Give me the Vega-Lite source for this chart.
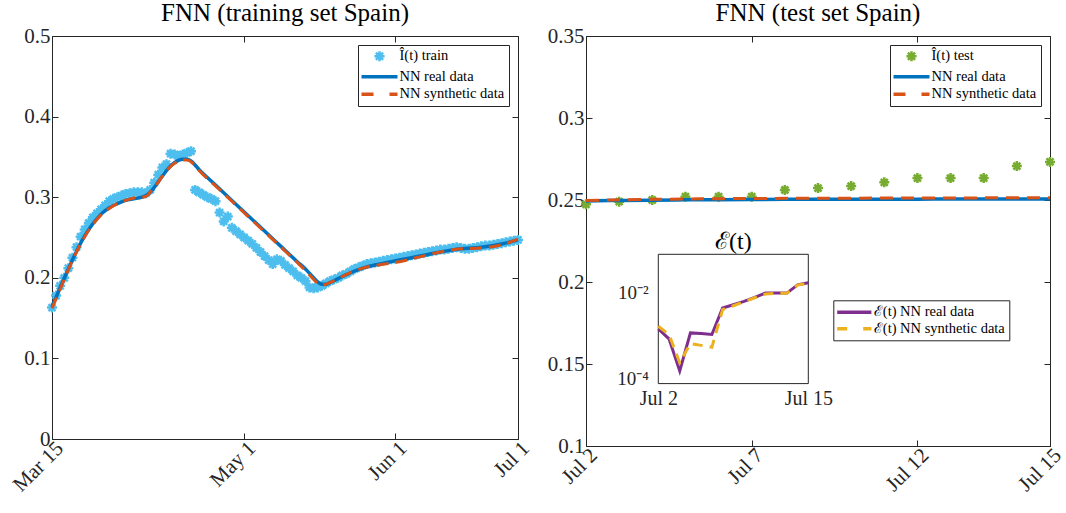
{
  "$schema": "https://vega.github.io/schema/vega-lite/v6.json",
  "padding": {"left": 8, "top": 0, "right": 3, "bottom": 5},
  "background": "white",
  "config": {
    "font": "Liberation Serif",
    "view": {"stroke": "#262626", "strokeWidth": 1},
    "axis": {"labelFont": "Liberation Serif", "labelFontSize": 21, "labelColor": "#262626", "domain": false, "ticks": true, "tickSize": -6, "tickColor": "#262626", "tickWidth": 1, "labelPadding": 8, "grid": false},
    "legend": {"labelFont": "Liberation Serif", "labelFontSize": 14.5, "labelColor": "#000000", "strokeColor": "#262626", "fillColor": "white", "padding": 4, "rowPadding": 1.5, "labelOffset": 2, "symbolSize": 144, "symbolStrokeWidth": 3.5, "symbolType": "stroke"},
    "title": {"font": "Liberation Serif", "fontSize": 25, "fontWeight": "normal", "color": "#000000", "offset": -1}
  },
  "datasets": {
    "train": [
      {"s":"Î(t) train","t":0,"v":0.163},{"s":"Î(t) train","t":1,"v":0.178},{"s":"Î(t) train","t":2,"v":0.190},{"s":"Î(t) train","t":3,"v":0.200},{"s":"Î(t) train","t":4,"v":0.212},{"s":"Î(t) train","t":5,"v":0.225},{"s":"Î(t) train","t":6,"v":0.238},{"s":"Î(t) train","t":7,"v":0.251},{"s":"Î(t) train","t":8,"v":0.260},{"s":"Î(t) train","t":9,"v":0.268},
      {"s":"Î(t) train","t":10,"v":0.275},{"s":"Î(t) train","t":11,"v":0.280},{"s":"Î(t) train","t":12,"v":0.285},{"s":"Î(t) train","t":13,"v":0.290},{"s":"Î(t) train","t":14,"v":0.295},{"s":"Î(t) train","t":15,"v":0.298},{"s":"Î(t) train","t":16,"v":0.300},{"s":"Î(t) train","t":17,"v":0.302},{"s":"Î(t) train","t":18,"v":0.304},{"s":"Î(t) train","t":19,"v":0.305},
      {"s":"Î(t) train","t":20,"v":0.306},{"s":"Î(t) train","t":21,"v":0.306},{"s":"Î(t) train","t":22,"v":0.306},{"s":"Î(t) train","t":23,"v":0.305},{"s":"Î(t) train","t":24,"v":0.309},{"s":"Î(t) train","t":25,"v":0.318},{"s":"Î(t) train","t":26,"v":0.328},{"s":"Î(t) train","t":27,"v":0.337},{"s":"Î(t) train","t":28,"v":0.341},{"s":"Î(t) train","t":29,"v":0.354},
      {"s":"Î(t) train","t":30,"v":0.353},{"s":"Î(t) train","t":31,"v":0.351},{"s":"Î(t) train","t":32,"v":0.353},{"s":"Î(t) train","t":33,"v":0.355},{"s":"Î(t) train","t":34,"v":0.357},{"s":"Î(t) train","t":35,"v":0.309},{"s":"Î(t) train","t":36,"v":0.306},{"s":"Î(t) train","t":37,"v":0.303},{"s":"Î(t) train","t":38,"v":0.300},{"s":"Î(t) train","t":39,"v":0.298},
      {"s":"Î(t) train","t":40,"v":0.295},{"s":"Î(t) train","t":41,"v":0.281},{"s":"Î(t) train","t":42,"v":0.270},{"s":"Î(t) train","t":43,"v":0.276},{"s":"Î(t) train","t":44,"v":0.262},{"s":"Î(t) train","t":45,"v":0.258},{"s":"Î(t) train","t":46,"v":0.254},{"s":"Î(t) train","t":47,"v":0.250},{"s":"Î(t) train","t":48,"v":0.246},{"s":"Î(t) train","t":49,"v":0.242},
      {"s":"Î(t) train","t":50,"v":0.237},{"s":"Î(t) train","t":51,"v":0.232},{"s":"Î(t) train","t":52,"v":0.227},{"s":"Î(t) train","t":53,"v":0.222},{"s":"Î(t) train","t":54,"v":0.217},{"s":"Î(t) train","t":55,"v":0.223},{"s":"Î(t) train","t":56,"v":0.221},{"s":"Î(t) train","t":57,"v":0.216},{"s":"Î(t) train","t":58,"v":0.212},{"s":"Î(t) train","t":59,"v":0.208},
      {"s":"Î(t) train","t":60,"v":0.203},{"s":"Î(t) train","t":61,"v":0.200},{"s":"Î(t) train","t":62,"v":0.196},{"s":"Î(t) train","t":63,"v":0.188},{"s":"Î(t) train","t":64,"v":0.187},{"s":"Î(t) train","t":65,"v":0.188},{"s":"Î(t) train","t":66,"v":0.190},{"s":"Î(t) train","t":67,"v":0.193},{"s":"Î(t) train","t":68,"v":0.196},{"s":"Î(t) train","t":69,"v":0.198},
      {"s":"Î(t) train","t":70,"v":0.200},{"s":"Î(t) train","t":71,"v":0.203},{"s":"Î(t) train","t":72,"v":0.205},{"s":"Î(t) train","t":73,"v":0.208},{"s":"Î(t) train","t":74,"v":0.211},{"s":"Î(t) train","t":75,"v":0.213},{"s":"Î(t) train","t":76,"v":0.215},{"s":"Î(t) train","t":77,"v":0.217},{"s":"Î(t) train","t":78,"v":0.218},{"s":"Î(t) train","t":79,"v":0.219},
      {"s":"Î(t) train","t":80,"v":0.220},{"s":"Î(t) train","t":81,"v":0.221},{"s":"Î(t) train","t":82,"v":0.222},{"s":"Î(t) train","t":83,"v":0.223},{"s":"Î(t) train","t":84,"v":0.224},{"s":"Î(t) train","t":85,"v":0.225},{"s":"Î(t) train","t":86,"v":0.226},{"s":"Î(t) train","t":87,"v":0.227},{"s":"Î(t) train","t":88,"v":0.228},{"s":"Î(t) train","t":89,"v":0.229},
      {"s":"Î(t) train","t":90,"v":0.230},{"s":"Î(t) train","t":91,"v":0.231},{"s":"Î(t) train","t":92,"v":0.232},{"s":"Î(t) train","t":93,"v":0.233},{"s":"Î(t) train","t":94,"v":0.234},{"s":"Î(t) train","t":95,"v":0.235},{"s":"Î(t) train","t":96,"v":0.235},{"s":"Î(t) train","t":97,"v":0.236},{"s":"Î(t) train","t":98,"v":0.237},{"s":"Î(t) train","t":99,"v":0.238},
      {"s":"Î(t) train","t":100,"v":0.237},{"s":"Î(t) train","t":101,"v":0.236},{"s":"Î(t) train","t":102,"v":0.236},{"s":"Î(t) train","t":103,"v":0.237},{"s":"Î(t) train","t":104,"v":0.238},{"s":"Î(t) train","t":105,"v":0.239},{"s":"Î(t) train","t":106,"v":0.240},{"s":"Î(t) train","t":107,"v":0.240},{"s":"Î(t) train","t":108,"v":0.241},{"s":"Î(t) train","t":109,"v":0.242},
      {"s":"Î(t) train","t":110,"v":0.243},{"s":"Î(t) train","t":111,"v":0.244},{"s":"Î(t) train","t":112,"v":0.245},{"s":"Î(t) train","t":113,"v":0.246},{"s":"Î(t) train","t":114,"v":0.247}
    ],
    "trainReal": [
      {"s":"NN real data","t":0,"v":0.164},{"s":"NN real data","t":2,"v":0.188},{"s":"NN real data","t":4,"v":0.211},{"s":"NN real data","t":6,"v":0.233},{"s":"NN real data","t":8,"v":0.252},{"s":"NN real data","t":10,"v":0.267},{"s":"NN real data","t":12,"v":0.279},{"s":"NN real data","t":14,"v":0.287},{"s":"NN real data","t":16,"v":0.292},{"s":"NN real data","t":18,"v":0.296},{"s":"NN real data","t":20,"v":0.298},{"s":"NN real data","t":22,"v":0.300},{"s":"NN real data","t":23,"v":0.302},{"s":"NN real data","t":24,"v":0.306},{"s":"NN real data","t":26,"v":0.319},{"s":"NN real data","t":28,"v":0.333},{"s":"NN real data","t":30,"v":0.343},{"s":"NN real data","t":32,"v":0.347},{"s":"NN real data","t":33,"v":0.347},{"s":"NN real data","t":34,"v":0.345},{"s":"NN real data","t":35,"v":0.340},{"s":"NN real data","t":36,"v":0.334},{"s":"NN real data","t":38,"v":0.3245},{"s":"NN real data","t":40,"v":0.315},{"s":"NN real data","t":44,"v":0.296},{"s":"NN real data","t":48,"v":0.277},{"s":"NN real data","t":52,"v":0.258},{"s":"NN real data","t":56,"v":0.239},{"s":"NN real data","t":60,"v":0.220},{"s":"NN real data","t":62,"v":0.211},{"s":"NN real data","t":64,"v":0.200},{"s":"NN real data","t":65,"v":0.195},{"s":"NN real data","t":66,"v":0.192},{"s":"NN real data","t":67,"v":0.192},{"s":"NN real data","t":68,"v":0.194},{"s":"NN real data","t":70,"v":0.199},{"s":"NN real data","t":72,"v":0.204},{"s":"NN real data","t":76,"v":0.212},{"s":"NN real data","t":80,"v":0.217},{"s":"NN real data","t":85,"v":0.222},{"s":"NN real data","t":90,"v":0.227},{"s":"NN real data","t":95,"v":0.232},{"s":"NN real data","t":100,"v":0.236},{"s":"NN real data","t":105,"v":0.238},{"s":"NN real data","t":110,"v":0.242},{"s":"NN real data","t":114,"v":0.247}
    ],
    "trainSyn": [
      {"s":"NN synthetic data","t":0,"v":0.162},{"s":"NN synthetic data","t":2,"v":0.186},{"s":"NN synthetic data","t":4,"v":0.210},{"s":"NN synthetic data","t":6,"v":0.232},{"s":"NN synthetic data","t":8,"v":0.251},{"s":"NN synthetic data","t":10,"v":0.266},{"s":"NN synthetic data","t":12,"v":0.278},{"s":"NN synthetic data","t":14,"v":0.286},{"s":"NN synthetic data","t":16,"v":0.292},{"s":"NN synthetic data","t":18,"v":0.296},{"s":"NN synthetic data","t":20,"v":0.299},{"s":"NN synthetic data","t":22,"v":0.300},{"s":"NN synthetic data","t":23,"v":0.301},{"s":"NN synthetic data","t":24,"v":0.306},{"s":"NN synthetic data","t":26,"v":0.319},{"s":"NN synthetic data","t":28,"v":0.333},{"s":"NN synthetic data","t":30,"v":0.342},{"s":"NN synthetic data","t":32,"v":0.346},{"s":"NN synthetic data","t":33,"v":0.346},{"s":"NN synthetic data","t":34,"v":0.344},{"s":"NN synthetic data","t":35,"v":0.339},{"s":"NN synthetic data","t":36,"v":0.333},{"s":"NN synthetic data","t":38,"v":0.323},{"s":"NN synthetic data","t":40,"v":0.314},{"s":"NN synthetic data","t":44,"v":0.295},{"s":"NN synthetic data","t":48,"v":0.276},{"s":"NN synthetic data","t":52,"v":0.257},{"s":"NN synthetic data","t":56,"v":0.238},{"s":"NN synthetic data","t":60,"v":0.219},{"s":"NN synthetic data","t":62,"v":0.209},{"s":"NN synthetic data","t":64,"v":0.198},{"s":"NN synthetic data","t":65,"v":0.193},{"s":"NN synthetic data","t":66,"v":0.191},{"s":"NN synthetic data","t":67,"v":0.192},{"s":"NN synthetic data","t":68,"v":0.194},{"s":"NN synthetic data","t":70,"v":0.199},{"s":"NN synthetic data","t":72,"v":0.204},{"s":"NN synthetic data","t":76,"v":0.212},{"s":"NN synthetic data","t":80,"v":0.216},{"s":"NN synthetic data","t":85,"v":0.220},{"s":"NN synthetic data","t":90,"v":0.226},{"s":"NN synthetic data","t":95,"v":0.232},{"s":"NN synthetic data","t":100,"v":0.236},{"s":"NN synthetic data","t":105,"v":0.237},{"s":"NN synthetic data","t":110,"v":0.241},{"s":"NN synthetic data","t":114,"v":0.248}
    ],
    "test": [
      {"s":"Î(t) test","t":0,"v":0.2474},{"s":"Î(t) test","t":1,"v":0.2490},{"s":"Î(t) test","t":2,"v":0.2500},{"s":"Î(t) test","t":3,"v":0.2520},{"s":"Î(t) test","t":4,"v":0.2520},{"s":"Î(t) test","t":5,"v":0.2520},{"s":"Î(t) test","t":6,"v":0.2561},{"s":"Î(t) test","t":7,"v":0.2573},{"s":"Î(t) test","t":8,"v":0.2585},{"s":"Î(t) test","t":9,"v":0.2608},{"s":"Î(t) test","t":10,"v":0.2634},{"s":"Î(t) test","t":11,"v":0.2634},{"s":"Î(t) test","t":12,"v":0.2634},{"s":"Î(t) test","t":13,"v":0.2707},{"s":"Î(t) test","t":14,"v":0.2732}
    ],
    "testReal": [
      {"s":"NN real data","t":0,"v":0.2494},{"s":"NN real data","t":1,"v":0.2497},{"s":"NN real data","t":2,"v":0.2499},{"s":"NN real data","t":3,"v":0.2501},{"s":"NN real data","t":4,"v":0.2502},{"s":"NN real data","t":5,"v":0.2503},{"s":"NN real data","t":6,"v":0.2504},{"s":"NN real data","t":7,"v":0.2504},{"s":"NN real data","t":8,"v":0.2505},{"s":"NN real data","t":9,"v":0.2505},{"s":"NN real data","t":10,"v":0.2505},{"s":"NN real data","t":11,"v":0.2506},{"s":"NN real data","t":12,"v":0.2506},{"s":"NN real data","t":13,"v":0.2506},{"s":"NN real data","t":14,"v":0.2506}
    ],
    "testSyn": [
      {"s":"NN synthetic data","t":0,"v":0.2497},{"s":"NN synthetic data","t":1,"v":0.2501},{"s":"NN synthetic data","t":2,"v":0.2504},{"s":"NN synthetic data","t":3,"v":0.2506},{"s":"NN synthetic data","t":4,"v":0.2508},{"s":"NN synthetic data","t":5,"v":0.2509},{"s":"NN synthetic data","t":6,"v":0.2510},{"s":"NN synthetic data","t":7,"v":0.2511},{"s":"NN synthetic data","t":8,"v":0.2511},{"s":"NN synthetic data","t":9,"v":0.2512},{"s":"NN synthetic data","t":10,"v":0.2512},{"s":"NN synthetic data","t":11,"v":0.2512},{"s":"NN synthetic data","t":12,"v":0.2513},{"s":"NN synthetic data","t":13,"v":0.2513},{"s":"NN synthetic data","t":14,"v":0.2513}
    ],
    "errReal": [
      {"s":"ℰ(t) NN real data","t":0,"e":0.00186},{"s":"ℰ(t) NN real data","t":1,"e":0.00109},{"s":"ℰ(t) NN real data","t":2,"e":0.000196},{"s":"ℰ(t) NN real data","t":3,"e":0.0015},{"s":"ℰ(t) NN real data","t":4,"e":0.00145},{"s":"ℰ(t) NN real data","t":5,"e":0.00138},{"s":"ℰ(t) NN real data","t":6,"e":0.00567},{"s":"ℰ(t) NN real data","t":7,"e":0.00677},{"s":"ℰ(t) NN real data","t":8,"e":0.00809},{"s":"ℰ(t) NN real data","t":9,"e":0.01},{"s":"ℰ(t) NN real data","t":10,"e":0.0126},{"s":"ℰ(t) NN real data","t":11,"e":0.0126},{"s":"ℰ(t) NN real data","t":12,"e":0.0126},{"s":"ℰ(t) NN real data","t":13,"e":0.0196},{"s":"ℰ(t) NN real data","t":14,"e":0.0218}
    ],
    "errSyn": [
      {"s":"ℰ(t) NN synthetic data","t":0,"e":0.00214},{"s":"ℰ(t) NN synthetic data","t":1,"e":0.00137},{"s":"ℰ(t) NN synthetic data","t":2,"e":0.000305},{"s":"ℰ(t) NN synthetic data","t":3,"e":0.00085},{"s":"ℰ(t) NN synthetic data","t":4,"e":0.00077},{"s":"ℰ(t) NN synthetic data","t":5,"e":0.0007},{"s":"ℰ(t) NN synthetic data","t":6,"e":0.0052},{"s":"ℰ(t) NN synthetic data","t":7,"e":0.0064},{"s":"ℰ(t) NN synthetic data","t":8,"e":0.008},{"s":"ℰ(t) NN synthetic data","t":9,"e":0.0098},{"s":"ℰ(t) NN synthetic data","t":10,"e":0.012},{"s":"ℰ(t) NN synthetic data","t":11,"e":0.0124},{"s":"ℰ(t) NN synthetic data","t":12,"e":0.0124},{"s":"ℰ(t) NN synthetic data","t":13,"e":0.0193},{"s":"ℰ(t) NN synthetic data","t":14,"e":0.0214}
    ]
  },
  "spacing": 12,
  "resolve": {"scale": {"color": "independent"}, "legend": {"color": "independent"}},
  "hconcat": [
    {
      "width": 466,
      "height": 403,
      "title": "FNN (training set Spain)",
      "layer": [
        {
          "encoding": {
            "x": {"field": "t", "type": "quantitative", "scale": {"domain": [0, 114], "nice": false, "zero": false},
                  "axis": {"title": null, "values": [0, 47, 84, 114], "labelExpr": "datum.value === 0 ? 'Mar 15' : datum.value === 47 ? 'May 1' : datum.value === 84 ? 'Jun 1' : 'Jul 1'", "labelAngle": -45, "labelAlign": "right", "labelBaseline": "top", "labelPadding": 4}},
            "y": {"field": "v", "type": "quantitative", "scale": {"domain": [0, 0.5], "nice": false, "zero": false},
                  "axis": {"title": null, "values": [0, 0.1, 0.2, 0.3, 0.4, 0.5], "format": "~g"}},
            "color": {"field": "s", "type": "nominal",
                      "scale": {"domain": ["Î(t) train", "NN real data", "NN synthetic data"], "range": ["#4DBEEE", "#0072BD", "#D95319"]},
                      "legend": {"title": null, "orient": "top-right", "offset": 9, "symbolSize": 144,
                        "encode": {
                          "symbols": {"update": {
                            "x": {"value": 17.5},
                            "shape": {"signal": "datum.value === 'Î(t) train' ? 'M-0.85,0L0.85,0M0,-0.85L0,0.85M-0.6,-0.6L0.6,0.6M-0.6,0.6L0.6,-0.6' : 'M-3,0L3,0'"},
                            "size": {"value": 144},
                            "stroke": {"signal": "datum.value === 'Î(t) train' ? '#4DBEEE' : datum.value === 'NN real data' ? '#0072BD' : '#D95319'"},
                            "strokeWidth": {"signal": "datum.value === 'Î(t) train' ? 2.5 : 3.5"},
                            "strokeDash": {"signal": "datum.value === 'NN synthetic data' ? [12, 16] : [1, 0]"},
                            "fill": {"value": "transparent"},
                            "opacity": {"value": 1}
                          }},
                          "labels": {"update": {"x": {"value": 37.5}}}
                        }}}
          },
          "layer": [
            {"data": {"name": "train"}, "mark": {"type": "point", "shape": "M-1,0L1,0M0,-1L0,1M-0.7,-0.7L0.7,0.7M-0.7,0.7L0.7,-0.7", "filled": false, "size": 100, "strokeWidth": 2.5, "opacity": 1}},
            {"data": {"name": "trainReal"}, "mark": {"type": "line", "strokeWidth": 3.5, "interpolate": "monotone"}},
            {"data": {"name": "trainSyn"}, "mark": {"type": "line", "strokeWidth": 3, "strokeDash": [12, 7], "interpolate": "monotone"}}
          ]
        },
        {
          "data": {"name": "trainReal"},
          "mark": {"type": "line", "strokeOpacity": 0, "strokeWidth": 0},
          "encoding": {
            "x": {"field": "t", "type": "quantitative", "axis": {"title": null, "orient": "top", "labels": false, "values": [0, 47, 84, 114]}},
            "y": {"field": "v", "type": "quantitative", "axis": {"title": null, "orient": "right", "labels": false, "values": [0, 0.1, 0.2, 0.3, 0.4, 0.5]}}
          }
        }
      ],
      "resolve": {"axis": {"x": "independent", "y": "independent"}}
    },
    {
      "width": 464,
      "height": 410,
      "title": "FNN (test set Spain)",
      "layer": [
        {
          "layer": [
            {
              "encoding": {
                "x": {"field": "t", "type": "quantitative", "scale": {"domain": [0, 14], "nice": false, "zero": false},
                      "axis": {"title": null, "values": [0, 5, 10, 14], "labelExpr": "datum.value === 0 ? 'Jul 2' : datum.value === 5 ? 'Jul 7' : datum.value === 10 ? 'Jul 12' : 'Jul 15'", "labelAngle": -45, "labelAlign": "right", "labelBaseline": "top", "labelPadding": 4}},
                "y": {"field": "v", "type": "quantitative", "scale": {"domain": [0.1, 0.35], "nice": false, "zero": false},
                      "axis": {"title": null, "values": [0.1, 0.15, 0.2, 0.25, 0.3, 0.35], "format": "~g"}},
                "color": {"field": "s", "type": "nominal",
                          "scale": {"domain": ["Î(t) test", "NN real data", "NN synthetic data"], "range": ["#77AC30", "#0072BD", "#D95319"]},
                          "legend": {"title": null, "orient": "top-right", "offset": 9, "symbolSize": 144,
                            "encode": {
                              "symbols": {"update": {
                                "x": {"value": 17.5},
                                "shape": {"signal": "datum.value === 'Î(t) test' ? 'M-0.85,0L0.85,0M0,-0.85L0,0.85M-0.6,-0.6L0.6,0.6M-0.6,0.6L0.6,-0.6' : 'M-3,0L3,0'"},
                                "size": {"value": 144},
                                "stroke": {"signal": "datum.value === 'Î(t) test' ? '#77AC30' : datum.value === 'NN real data' ? '#0072BD' : '#D95319'"},
                                "strokeWidth": {"signal": "datum.value === 'Î(t) test' ? 2.5 : 3.5"},
                                "strokeDash": {"signal": "datum.value === 'NN synthetic data' ? [12, 16] : [1, 0]"},
                                "fill": {"value": "transparent"},
                                "opacity": {"value": 1}
                              }},
                              "labels": {"update": {"x": {"value": 37.5}}}
                            }}}
              },
              "layer": [
                {"data": {"name": "test"}, "mark": {"type": "point", "shape": "M-1,0L1,0M0,-1L0,1M-0.7,-0.7L0.7,0.7M-0.7,0.7L0.7,-0.7", "filled": false, "size": 100, "strokeWidth": 2.5, "opacity": 1}},
                {"data": {"name": "testReal"}, "mark": {"type": "line", "strokeWidth": 3.5, "interpolate": "monotone"}},
                {"data": {"name": "testSyn"}, "mark": {"type": "line", "strokeWidth": 3, "strokeDash": [13, 8], "interpolate": "monotone"}}
              ]
            },
            {
              "data": {"name": "testReal"},
              "mark": {"type": "line", "strokeOpacity": 0, "strokeWidth": 0},
              "encoding": {
                "x": {"field": "t", "type": "quantitative", "axis": {"title": null, "orient": "top", "labels": false, "values": [0, 5, 10, 14]}},
                "y": {"field": "v", "type": "quantitative", "axis": {"title": null, "orient": "right", "labels": false, "values": [0.1, 0.15, 0.2, 0.25, 0.3, 0.35]}}
              }
            }
          ],
          "resolve": {"axis": {"x": "independent", "y": "independent"}}
        },
        {
          "layer": [
            {"data": {"values": [{"a": 1}]},
             "mark": {"type": "rect", "fill": "white", "stroke": "#262626", "strokeWidth": 1, "filled": true},
             "encoding": {
               "x": {"datum": 0, "type": "quantitative", "scale": {"domain": [0, 14], "range": [72.3, 222.3], "nice": false, "zero": false},
                     "axis": {"title": null, "orient": "bottom", "offset": -62.4, "values": [0, 14], "labelExpr": "datum.value === 0 ? 'Jul 2' : 'Jul 15'", "labelAngle": 0, "labelAlign": "center", "labelBaseline": "top", "labelPadding": 5, "labelFontSize": 20, "ticks": false}},
               "x2": {"datum": 14},
               "y": {"datum": 0.0001, "type": "quantitative", "scale": {"type": "log", "domain": [0.0001, 0.1], "range": [347.6, 218.3], "nice": false},
                     "axis": {"title": null, "orient": "left", "offset": -72.3, "values": [0.0001, 0.01], "labelExpr": "datum.value < 0.001 ? '10⁻⁴' : '10⁻²'", "labelPadding": 10, "labelFontSize": 19, "labelOffset": -5, "ticks": false}},
               "y2": {"datum": 0.1}
             }},
            {"data": {"name": "errReal"},
             "mark": {"type": "line", "strokeWidth": 3},
             "encoding": {
               "x": {"field": "t", "type": "quantitative"},
               "y": {"field": "e", "type": "quantitative"},
               "color": {"field": "s", "type": "nominal",
                         "scale": {"domain": ["ℰ(t) NN real data", "ℰ(t) NN synthetic data"], "range": ["#7E2F8E", "#EDB120"]},
                         "legend": {"title": null, "orient": "none", "legendX": 247.3, "legendY": 264.3, "symbolSize": 144,
                           "encode": {
                             "symbols": {"update": {
                               "x": {"value": 17},
                               "shape": {"value": "M-2.85,0L2.85,0"},
                               "size": {"value": 144},
                               "stroke": {"signal": "datum.value === 'ℰ(t) NN real data' ? '#7E2F8E' : '#EDB120'"},
                               "strokeWidth": {"value": 3.5},
                               "strokeDash": {"signal": "datum.value === 'ℰ(t) NN synthetic data' ? [10, 16] : [1, 0]"},
                               "fill": {"value": "transparent"},
                               "opacity": {"value": 1}
                             }},
                             "labels": {"update": {"x": {"value": 36.5}}}
                           }}}
             }},
            {"data": {"name": "errSyn"},
             "mark": {"type": "line", "strokeWidth": 3, "strokeDash": [10, 7]},
             "encoding": {
               "x": {"field": "t", "type": "quantitative"},
               "y": {"field": "e", "type": "quantitative"},
               "color": {"field": "s", "type": "nominal"}
             }},
            {"data": {"values": [{"a": 1}]},
             "mark": {"type": "text", "text": "ℰ(t)", "fontSize": 24, "baseline": "middle", "dy": -12, "font": "Liberation Serif", "fill": "#000000"},
             "encoding": {
               "x": {"datum": 7, "type": "quantitative"},
               "y": {"datum": 0.1, "type": "quantitative"}
             }}
          ]
        }
      ],
      "resolve": {"scale": {"x": "independent", "y": "independent", "color": "independent"}}
    }
  ]
}
